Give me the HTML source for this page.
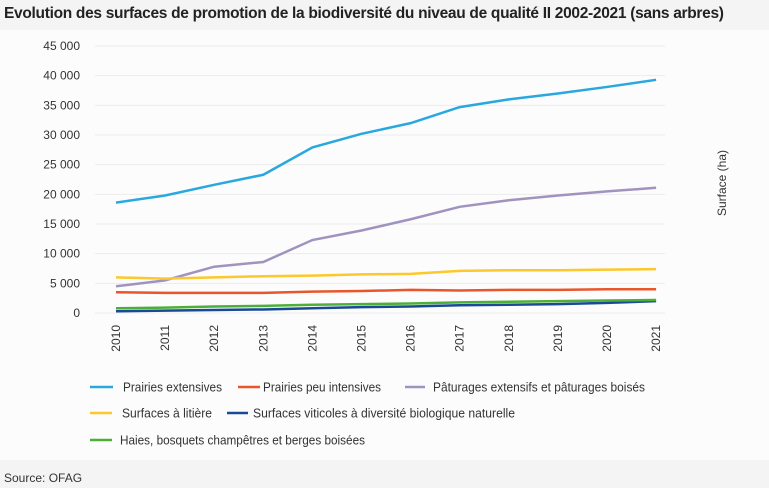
<!DOCTYPE html>
<html><head><meta charset="utf-8"><style>
body{margin:0;width:769px;height:488px;background:#f4f4f4;font-family:"Liberation Sans",sans-serif;overflow:hidden;position:relative}
#title{position:absolute;left:4px;top:5px;font-weight:bold;font-size:15.5px;color:#222;letter-spacing:-0.3px;white-space:nowrap}
#panel{position:absolute;left:0;top:30px;width:769px;height:430px;background:#fcfcfc}
#src{position:absolute;left:4px;top:471px;font-size:12px;color:#333}
svg{position:absolute;left:0;top:0}
</style></head><body>
<div id="title">Evolution des surfaces de promotion de la biodiversité du niveau de qualité II 2002-2021 (sans arbres)</div>
<div id="panel"></div>
<svg id="chart" width="769" height="488"></svg>
<div id="src">Source: OFAG</div>
<script>
const years=[2010,2011,2012,2013,2014,2015,2016,2017,2018,2019,2020,2021];
const yTicks=[0,5000,10000,15000,20000,25000,30000,35000,40000,45000];
const prairiesExt=[18600,19800,21600,23300,27900,30200,32000,34700,36000,37000,38100,39300];
const paturages=[4500,5500,7800,8600,12300,13900,15800,17900,19000,19800,20500,21100];
const litiere=[6000,5800,6000,6200,6300,6500,6600,7100,7200,7200,7300,7400];
const peuInt=[3500,3400,3400,3400,3600,3700,3900,3800,3900,3900,4000,4000];
const haies=[800,900,1100,1200,1400,1500,1600,1800,1900,2000,2100,2200];
const viticoles=[300,400,500,600,800,1000,1100,1300,1400,1500,1700,2000];
const series=[
 {name:'Prairies extensives',data:prairiesExt,color:'#29a8e0',id:'prairies-extensives'},
 {name:'Prairies peu intensives',data:peuInt,color:'#e8562a',id:'prairies-peu-intensives'},
 {name:'Pâturages extensifs et pâturages boisés',data:paturages,color:'#a093c0',id:'paturages'},
 {name:'Surfaces à litière',data:litiere,color:'#fcc82c',id:'surfaces-litiere'},
 {name:'Surfaces viticoles à diversité biologique naturelle',data:viticoles,color:'#1a4a96',id:'surfaces-viticoles'},
 {name:'Haies, bosquets champêtres et berges boisées',data:haies,color:'#4cb038',id:'haies'}
];
const svg=document.getElementById('chart'),NS='http://www.w3.org/2000/svg';
const x0=116,dx=49.1,y0=313,yMax=45000,yTop=46;
const X=i=>x0+i*dx, Y=v=>y0-(v/yMax)*(y0-yTop);
function mk(t,a,p){const e=document.createElementNS(NS,t);for(const k in a)e.setAttribute(k,a[k]);(p||svg).appendChild(e);return e;}
yTicks.forEach(v=>{
 const g=mk('line',{x1:95,x2:665,y1:Y(v),y2:Y(v),stroke:'#ececec','stroke-width':1});
 
 
 const t=mk('text',{x:80,y:Y(v)+4,'text-anchor':'end','font-size':12,fill:'#333'});
 t.textContent=v===0?'0':(v/1000)+' 000';
 
 
});
years.forEach((yr,i)=>{
 const t=mk('text',{x:0,y:0,'font-size':12,fill:'#333','text-anchor':'end',transform:`translate(${X(i)+4},${325}) rotate(-90)`});
 t.textContent=yr;
 
 
});
const yt=mk('text',{x:0,y:0,'font-size':12,fill:'#333','text-anchor':'middle',transform:'translate(726,183) rotate(-90)'});
yt.textContent='Surface (ha)';


series.forEach(s=>{
 const p=mk('polyline',{points:s.data.map((v,i)=>X(i)+','+Y(v)).join(' '),fill:'none',stroke:s.color,'stroke-width':2.5});
 
 
});
// [series, lineX1, lineX2, y, textX, textWidth]
const leg=[[0,90,113,387,123,99],[1,238,260,387,263,118],[2,405,425,387,433,212],[3,90,112,413,122,90],[4,227,248,413,253,262],[5,90,112,440,120,245]];
leg.forEach(([k,l1,l2,ly,tx,tw])=>{
 const s=series[k];
 const g=mk('g',{});
 
 
 mk('line',{x1:l1,x2:l2,y1:ly,y2:ly,stroke:s.color,'stroke-width':2.5},g);
 const t=mk('text',{x:tx,y:ly+4.5,'font-size':13,fill:'#333',textLength:tw,lengthAdjust:'spacingAndGlyphs'},g);
 t.textContent=s.name;
});
</script>
</body></html>
